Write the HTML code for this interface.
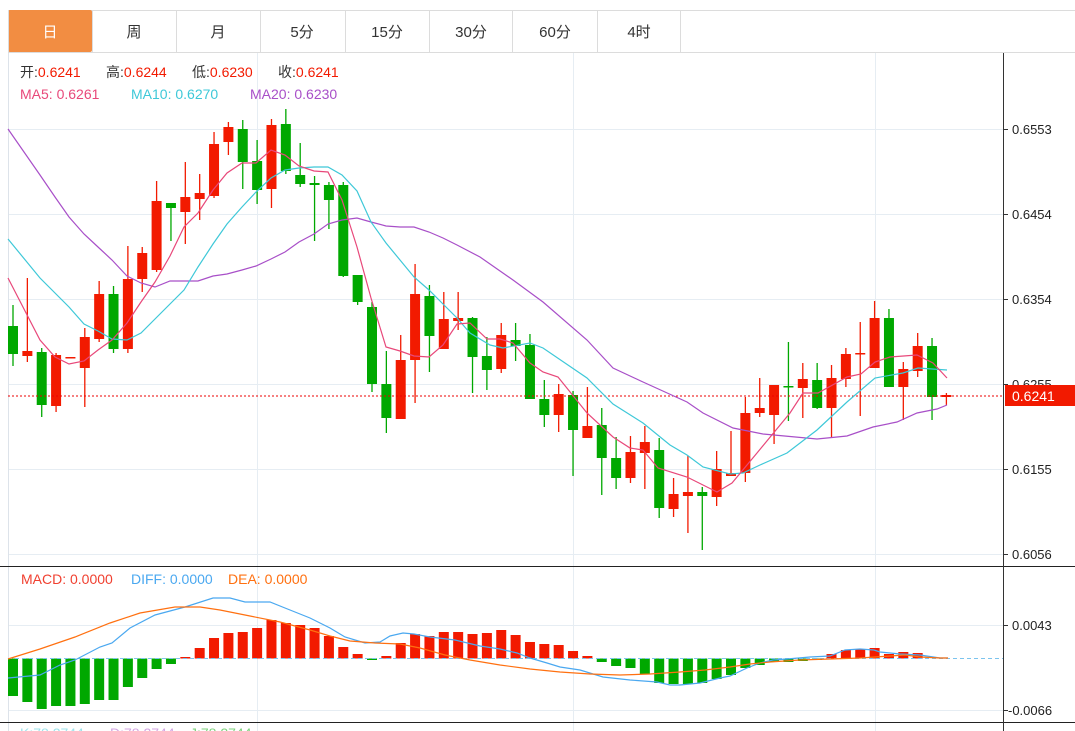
<!DOCTYPE html>
<html><head><meta charset="utf-8"><style>
html,body{margin:0;padding:0;background:#fff;width:1075px;height:731px;overflow:hidden}
svg{display:block;font-family:"Liberation Sans","Noto Sans CJK SC",sans-serif}
</style></head><body>
<svg id="s" width="1075" height="731" viewBox="0 0 1075 731" xmlns="http://www.w3.org/2000/svg">
<rect width="1075" height="731" fill="#fff"/>
<!-- tabs -->
<line x1="8" y1="10.5" x2="1075" y2="10.5" stroke="#dcdcdc"/>
<line x1="8" y1="52.5" x2="1075" y2="52.5" stroke="#dcdcdc"/>
<rect x="8" y="10" width="84" height="42" fill="#f28d42" rx="2"/>
<g stroke="#dcdcdc"><line x1="92.5" y1="10" x2="92.5" y2="52"/><line x1="176.5" y1="10" x2="176.5" y2="52"/><line x1="260.5" y1="10" x2="260.5" y2="52"/><line x1="345.5" y1="10" x2="345.5" y2="52"/><line x1="429.5" y1="10" x2="429.5" y2="52"/><line x1="512.5" y1="10" x2="512.5" y2="52"/><line x1="597.5" y1="10" x2="597.5" y2="52"/><line x1="680.5" y1="10" x2="680.5" y2="52"/><line x1="8.5" y1="10" x2="8.5" y2="52"/></g>
<g font-size="15" text-anchor="middle" fill="#333"><text x="50" y="37" fill="#fff">日</text><text x="134" y="37">周</text><text x="218" y="37">月</text><text x="302" y="37">5分</text><text x="387" y="37">15分</text><text x="471" y="37">30分</text><text x="555" y="37">60分</text><text x="639" y="37">4时</text></g>
<!-- grid -->
<g stroke="#e6edf3"><line x1="8" y1="129.5" x2="1003" y2="129.5"/><line x1="8" y1="214.5" x2="1003" y2="214.5"/><line x1="8" y1="299.5" x2="1003" y2="299.5"/><line x1="8" y1="384.5" x2="1003" y2="384.5"/><line x1="8" y1="469.5" x2="1003" y2="469.5"/><line x1="8" y1="554.5" x2="1003" y2="554.5"/><line x1="8" y1="625.5" x2="1003" y2="625.5"/><line x1="8" y1="710.5" x2="1003" y2="710.5"/>
<line x1="257.5" y1="53" x2="257.5" y2="731"/><line x1="573.5" y1="53" x2="573.5" y2="731"/><line x1="875.5" y1="53" x2="875.5" y2="731"/></g>
<line x1="8.5" y1="53" x2="8.5" y2="731" stroke="#dde3ea"/>
<g id="c"></g>
<line x1="8" y1="396" x2="1003" y2="396" stroke="#e00" stroke-dasharray="2,2"/>
<polyline fill="none" stroke="#a84fc8" stroke-width="1.2" points="8,129 40,175 55,197 69,217 84,234 98,247 112,260 127,276 141,283 155,287 170,281 184,281 198,281 213,276 227,274 242,270 256,266 271,259 285,252 299,242 314,234 328,224 342,220 357,218 371,222 386,226 400,227 414,227 429,232 443,238 457,245 480,257 513,280 543,302 587,340 613,368 643,382 687,402 703,413 733,428 763,434 817,439 847,436 873,427 897,422 917,413 937,409 947,405"/>
<polyline fill="none" stroke="#3ec8d8" stroke-width="1.2" points="8,239 40,278 55,293 69,307 84,324 98,331 112,339 127,340 141,333 155,319 170,304 184,290 198,267 213,244 227,224 242,207 256,192 271,178 285,170 299,168 314,167 328,167 342,175 357,191 371,222 386,243 400,260 414,277 429,290 443,304 457,318 470,333 490,345 503,348 530,343 543,348 587,378 613,404 643,423 670,445 687,455 703,467 730,474 743,473 760,465 787,453 817,430 847,402 875,378 903,373 918,368 947,370"/>
<polyline fill="none" stroke="#e8487a" stroke-width="1.2" points="8,278 40,340 55,357 69,364 84,361 98,350 112,340 127,323 141,302 155,282 170,256 184,227 198,213 213,190 227,173 242,163 256,163 271,150 285,155 299,166 314,171 328,172 342,200 357,247 371,298 386,347 400,351 414,356 429,357 443,345 457,324 470,323 487,339 500,339 513,343 530,363 543,372 558,377 587,413 613,437 630,448 643,450 658,468 687,477 717,492 732,483 757,453 790,413 803,393 818,393 847,377 861,374 875,362 890,357 917,355 933,363 947,378"/>
<!-- legend -->
<g font-size="14"><text x="20" y="77" fill="#333">开:<tspan fill="#f21a00">0.6241</tspan></text><text x="106" y="77" fill="#333">高:<tspan fill="#f21a00">0.6244</tspan></text><text x="192" y="77" fill="#333">低:<tspan fill="#f21a00">0.6230</tspan></text><text x="278" y="77" fill="#333">收:<tspan fill="#f21a00">0.6241</tspan></text>
<text x="20" y="99" fill="#e8487a">MA5: 0.6261</text><text x="131" y="99" fill="#3ec8d8">MA10: 0.6270</text><text x="250" y="99" fill="#a84fc8">MA20: 0.6230</text></g>
<!-- panel lines -->
<line x1="0" y1="566.5" x2="1075" y2="566.5" stroke="#222"/>
<line x1="0" y1="722.5" x2="1075" y2="722.5" stroke="#222"/>
<line x1="1003.5" y1="53" x2="1003.5" y2="731" stroke="#333"/>
<!-- macd -->
<g id="m"></g>
<line x1="8" y1="658.5" x2="1003" y2="658.5" stroke="#7cc4ee" stroke-dasharray="4,3"/>
<polyline fill="none" stroke="#4aa8f0" stroke-width="1.2" points="8,678 40,675 60,665 75,660 100,647 112,643 130,628 155,615 185,607 213,598 230,598 245,602 270,602 285,608 310,618 330,628 345,637 365,643 380,642 390,636 403,633 414,634 430,637 455,640 480,646 500,649 517,653 530,658 547,663 560,667 580,670 603,677 630,680 657,682 670,685 680,685 700,683 720,678 730,676 747,668 760,663 773,660 787,659 810,657 830,656 845,650 860,649 874,650 880,652 900,654 920,655 940,658 948,658"/>
<polyline fill="none" stroke="#ff7010" stroke-width="1.2" points="8,659 40,649 75,637 110,623 140,613 175,607 200,607 220,610 250,616 280,622 310,630 330,636 350,641 375,643 400,644 420,648 445,655 470,660 500,665 530,669 560,672 590,674 620,675 650,674 680,672 705,670 730,667 750,664 770,662 800,660 830,659 860,658 890,656 905,655 920,657 940,658 948,658"/>
<g font-size="14"><text x="21" y="584" fill="#f04030">MACD: 0.0000</text><text x="131" y="584" fill="#4aa8f0">DIFF: 0.0000</text><text x="228" y="584" fill="#ff7010">DEA: 0.0000</text></g>
<g font-size="14" fill="#444" opacity="0.5"><text x="20" y="738" fill="#3ec8d8">K:78.2744</text><text x="110" y="738" fill="#a84fc8">D:78.2744</text><text x="190" y="738" fill="#00a800">J:78.2744</text></g>
<!-- axis labels -->
<g stroke="#333"><line x1="1003" y1="129.5" x2="1008" y2="129.5"/><line x1="1003" y1="214.5" x2="1008" y2="214.5"/><line x1="1003" y1="299.5" x2="1008" y2="299.5"/><line x1="1003" y1="384.5" x2="1008" y2="384.5"/><line x1="1003" y1="469.5" x2="1008" y2="469.5"/><line x1="1003" y1="554.5" x2="1008" y2="554.5"/><line x1="1003" y1="625.5" x2="1008" y2="625.5"/><line x1="1003" y1="710.5" x2="1008" y2="710.5"/></g>
<g font-size="13" fill="#222"><text x="1012" y="134">0.6553</text><text x="1012" y="219">0.6454</text><text x="1012" y="304">0.6354</text><text x="1012" y="389">0.6255</text><text x="1012" y="474">0.6155</text><text x="1012" y="559">0.6056</text><text x="1012" y="630">0.0043</text><text x="1008" y="715">-0.0066</text></g>
<rect x="1005" y="385" width="70" height="21" fill="#f21a00"/>
<text x="1012" y="401" font-size="14" fill="#fff">0.6241</text>
</svg>
<script>
var C=[[1,326,354,305,366],[0,351,356,278,362],[1,352,405,348,417],[0,355,406,353,412],[0,357,358,357,358],[0,337,368,328,407],[0,294,339,281,342],[1,294,349,286,353],[0,279,349,246,353],[0,253,279,247,292],[0,201,270,181,272],[1,203,208,203,241],[0,197,212,162,244],[0,193,199,174,220],[0,144,196,132,198],[0,127,142,122,155],[1,129,162,120,189],[1,161,190,140,204],[0,125,189,119,208],[1,124,171,109,174],[1,175,184,143,187],[1,183,185,176,241],[1,185,200,182,229],[1,185,276,182,277],[1,275,302,275,305],[1,307,384,302,392],[1,384,418,351,433],[0,360,419,335,419],[0,294,360,264,403],[1,296,336,285,372],[0,319,349,292,349],[0,318,321,292,330],[1,318,357,317,393],[1,356,370,337,390],[0,335,369,323,373],[1,340,346,323,361],[1,345,399,334,399],[1,399,415,380,427],[0,394,415,384,432],[1,395,430,391,476],[0,426,438,387,438],[1,425,458,408,495],[1,458,478,437,489],[0,452,478,436,483],[0,442,453,426,489],[1,450,508,438,518],[0,494,509,478,517],[0,492,496,456,533],[1,492,496,487,550],[0,469,497,451,506],[0,473,476,431,476],[0,413,473,397,482],[0,408,413,378,417],[0,385,415,385,444],[1,386,387,342,421],[0,379,388,363,418],[1,380,408,363,409],[0,378,408,365,437],[0,354,379,348,387],[0,353,354,322,416],[0,318,368,301,368],[1,318,387,309,387],[0,369,387,362,420],[0,346,371,333,377],[1,346,397,338,420],[0,395,397,393,405]];
var M=[696,702,709,706,706,704,700,700,687,678,669,664,657,648,638,633,632,628,620,623,625,628,636,647,654,660,656,643,634,636,632,632,634,633,630,635,642,644,645,651,656,662,666,668,674,683,684,684,683,679,675,668,665,662,662,661,660,654,650,649,648,654,652,653,658,658];
var ns="http://www.w3.org/2000/svg",g=document.getElementById("c"),m=document.getElementById("m");
function el(p,t,a){var e=document.createElementNS(ns,t);for(var k in a)e.setAttribute(k,a[k]);p.appendChild(e);}
C.forEach(function(c,i){var x=13+i*14.36,col=c[0]?"#00a800":"#f21a00";
el(g,"line",{x1:x,x2:x,y1:c[3],y2:c[4],stroke:col,"stroke-width":1.3});
var t=Math.min(c[1],c[2]),h=Math.max(1.5,Math.abs(c[2]-c[1]));
el(g,"rect",{x:x-5,y:t,width:10,height:h,fill:col});
var v=M[i],z=658.5;if(Math.abs(v-z)<1)return;
el(m,"rect",{x:x-5,y:Math.min(v,z),width:10,height:Math.abs(v-z),fill:v<z?"#f21a00":"#00a800"});});
</script>
</body></html>
